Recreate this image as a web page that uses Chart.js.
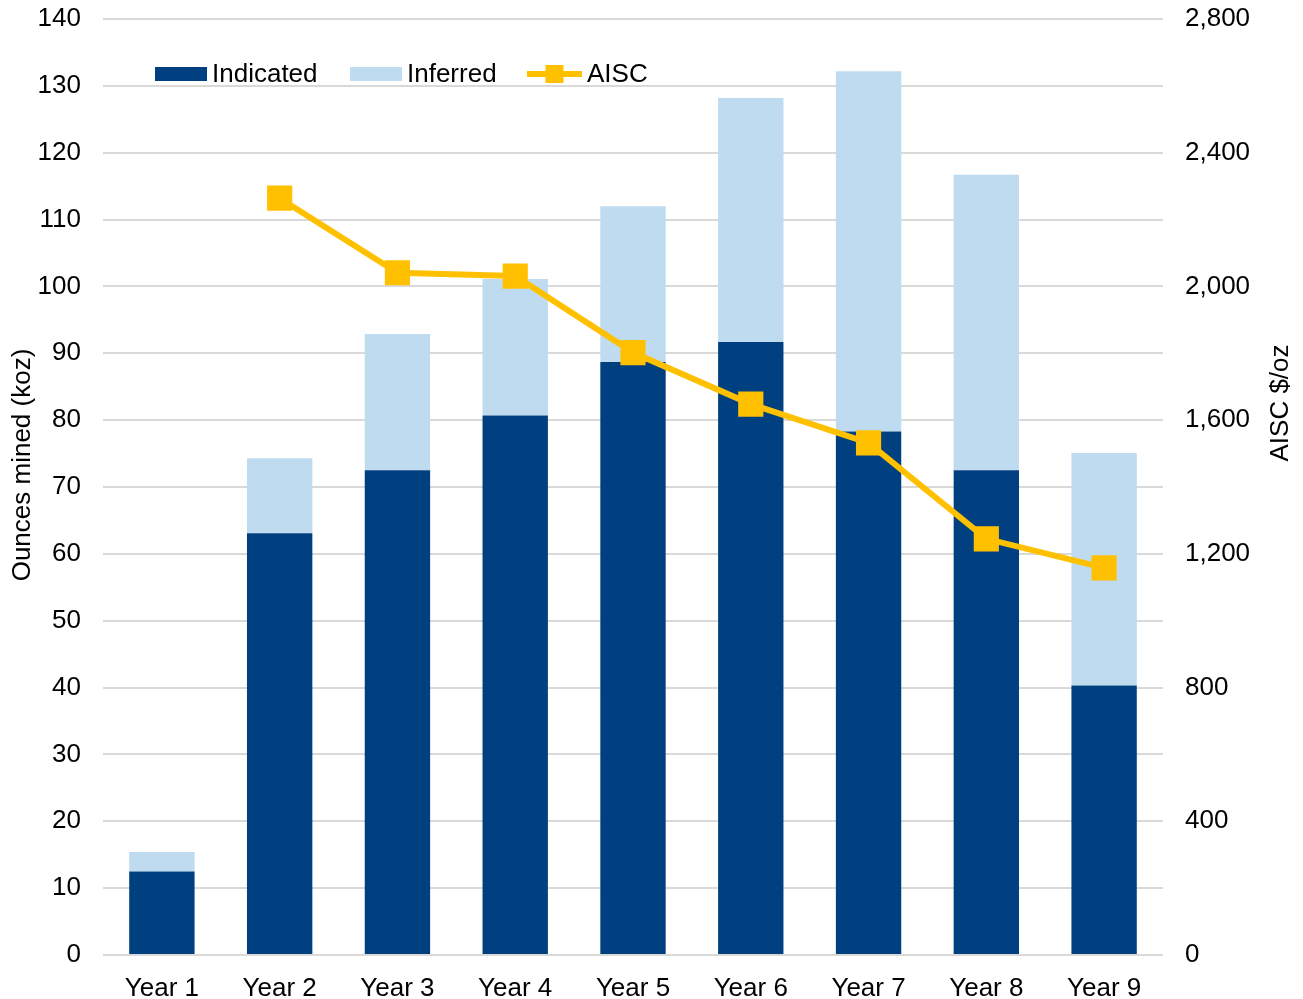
<!DOCTYPE html>
<html>
<head>
<meta charset="utf-8">
<title>Ounces mined and AISC by year</title>
<script src="https://cdn.jsdelivr.net/npm/chart.js@4.4.1/dist/chart.umd.min.js"></script>
<style>
  html, body { margin: 0; padding: 0; background: #ffffff; overflow: hidden; }
  canvas { display: block; }
</style>
</head>
<body>
<canvas id="chart" width="1303" height="999"></canvas>
<script>
// ---- Data ----
const categories = ['Year 1', 'Year 2', 'Year 3', 'Year 4', 'Year 5', 'Year 6', 'Year 7', 'Year 8', 'Year 9'];
const indicatedKoz = [12.5, 63.1, 72.5, 80.7, 88.7, 91.7, 78.3, 72.5, 40.3];
const inferredKoz  = [2.9, 11.2, 20.4, 20.4, 23.3, 36.5, 53.9, 44.2, 34.8];
const aiscPerOz    = [null, 2264, 2041, 2031, 1802, 1648, 1532, 1245, 1158];

const leftAxis  = { min: 0, max: 140, step: 10 };
const rightAxis = { min: 0, max: 2800, step: 400 };

// ---- Styling ----
const FONT = '"Liberation Sans", Arial, Helvetica, sans-serif';
const TEXT = '#000000';
const GRID = '#d9d9d9';
const DARK_BLUE = '#004080';
const LIGHT_BLUE = '#bfdbf0';
const GOLD = '#ffc000';

// Legend drawn inside the plot, above the bars
const insideLegend = {
  id: 'insideLegend',
  afterDraw(chart, args, opts) {
    const ctx = chart.ctx;
    const ds = chart.data.datasets;
    const y = opts.y;
    ctx.save();
    ctx.font = `${opts.fontSize}px ${FONT}`;
    ctx.textBaseline = 'middle';
    ctx.textAlign = 'left';
    opts.items.forEach((it, i) => {
      const d = ds[i];
      if (d.type === 'line') {
        ctx.strokeStyle = d.borderColor;
        ctx.lineWidth = d.borderWidth;
        ctx.beginPath();
        ctx.moveTo(it.x, y);
        ctx.lineTo(it.x + it.w, y);
        ctx.stroke();
        ctx.fillStyle = d.pointBackgroundColor;
        const m = opts.markerSize;
        ctx.fillRect(it.x + it.w / 2 - m / 2, y - m / 2, m, m);
      } else {
        ctx.fillStyle = d.backgroundColor;
        ctx.fillRect(it.x, y - opts.boxHeight / 2, it.w, opts.boxHeight);
      }
      ctx.fillStyle = TEXT;
      ctx.fillText(d.label, it.x + it.w + opts.gap, y + 1);
    });
    ctx.restore();
  }
};

// Axis titles at fixed positions beside the plot
const axisTitles = {
  id: 'axisTitles',
  afterDraw(chart, args, opts) {
    const ctx = chart.ctx;
    ctx.save();
    ctx.font = `${opts.fontSize}px ${FONT}`;
    ctx.fillStyle = TEXT;
    ctx.textAlign = 'center';
    ctx.textBaseline = 'middle';
    opts.titles.forEach(t => {
      ctx.save();
      ctx.translate(t.x, t.y);
      ctx.rotate(-Math.PI / 2);
      ctx.fillText(t.text, 0, 0);
      ctx.restore();
    });
    ctx.restore();
  }
};

// Fixed side widths so the plot area spans the same box on every render
function fixVertical(width) {
  return function (scale) {
    scale.width = width;
    scale.paddingTop = 0;
    scale.paddingBottom = 0;
  };
}

new Chart(document.getElementById('chart'), {
  data: {
    labels: categories,
    datasets: [
      {
        type: 'bar',
        label: 'Indicated',
        data: indicatedKoz,
        backgroundColor: DARK_BLUE,
        yAxisID: 'y',
        stack: 'ounces',
        order: 2,
        categoryPercentage: 1,
        barPercentage: 0.555
      },
      {
        type: 'bar',
        label: 'Inferred',
        data: inferredKoz,
        backgroundColor: LIGHT_BLUE,
        yAxisID: 'y',
        stack: 'ounces',
        order: 2,
        categoryPercentage: 1,
        barPercentage: 0.555
      },
      {
        type: 'line',
        label: 'AISC',
        data: aiscPerOz,
        yAxisID: 'y2',
        borderColor: GOLD,
        borderWidth: 6,
        pointStyle: 'rect',
        pointRadius: 17.8,
        pointBackgroundColor: GOLD,
        pointBorderWidth: 0,
        pointHoverRadius: 17.8,
        tension: 0,
        order: 0
      }
    ]
  },
  options: {
    responsive: false,
    animation: false,
    events: [],
    layout: { padding: { top: 19, left: 0, right: 0, bottom: 0 } },
    plugins: {
      legend: { display: false },
      tooltip: { enabled: false },
      insideLegend: {
        y: 74,
        fontSize: 26,
        boxHeight: 14,
        markerSize: 18,
        gap: 5,
        items: [ { x: 155, w: 52 }, { x: 350, w: 52 }, { x: 527, w: 55 } ]
      },
      axisTitles: {
        fontSize: 26,
        titles: [
          { text: 'Ounces mined (koz)', x: 23, y: 465 },
          { text: 'AISC $/oz', x: 1281, y: 403 }
        ]
      }
    },
    scales: {
      x: {
        stacked: true,
        grid: { display: false },
        border: { display: false },
        ticks: { color: TEXT, font: { family: FONT, size: 26 }, padding: 10, maxRotation: 0 },
        afterFit(scale) { scale.height = 44; }
      },
      y: {
        position: 'left',
        stacked: true,
        min: leftAxis.min,
        max: leftAxis.max,
        grid: { color: GRID, lineWidth: 2, drawTicks: false },
        border: { display: false },
        ticks: { stepSize: leftAxis.step, color: TEXT, font: { family: FONT, size: 26 }, padding: 22 },
        afterFit: fixVertical(103)
      },
      y2: {
        position: 'right',
        stacked: false,
        min: rightAxis.min,
        max: rightAxis.max,
        grid: { display: false, drawTicks: false },
        border: { display: false },
        ticks: {
          stepSize: rightAxis.step,
          color: TEXT,
          font: { family: FONT, size: 26 },
          padding: 22,
          callback: v => v.toLocaleString('en-US')
        },
        afterFit: fixVertical(140)
      }
    }
  },
  plugins: [insideLegend, axisTitles]
});
</script>
</body>
</html>
